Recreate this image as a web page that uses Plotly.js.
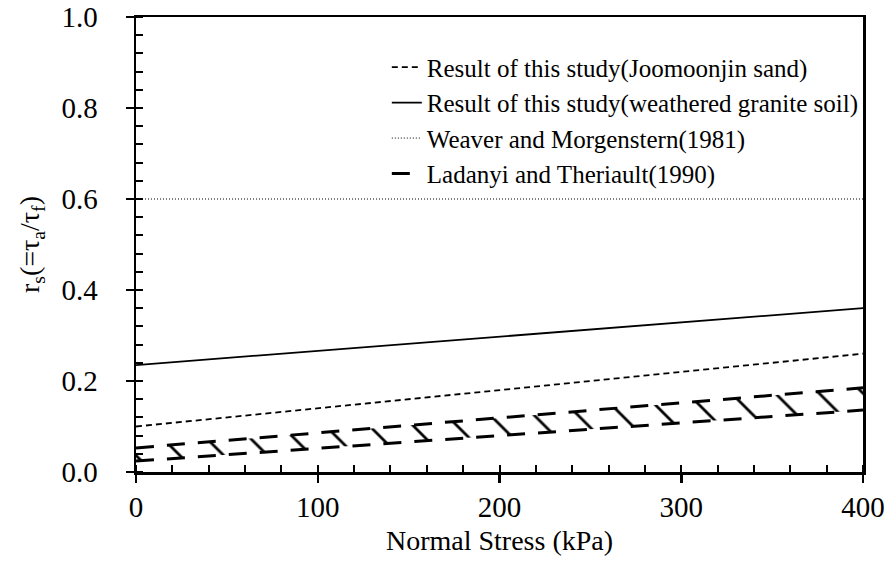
<!DOCTYPE html>
<html>
<head>
<meta charset="utf-8">
<script src="https://cdn.plot.ly/plotly-3.0.1.min.js"></script>
<style>html,body{margin:0;padding:0;background:#fff;}#chart{width:888px;height:567px;}</style>
</head>
<body>
<div id="chart"></div>
<script>
// Data
const normalStress = [0, 400];
const joomoonjinSand = [0.10, 0.26];
const graniteSoil = [0.235, 0.36];
const weaver1981 = [0.6, 0.6];
const ladanyiUpper = [0.053, 0.185];
const ladanyiLower = [0.024, 0.136];
const seriesNames = [
  "Result of this study(Joomoonjin sand)",
  "Result of this study(weathered granite soil)",
  "Weaver and Morgenstern(1981)",
  "Ladanyi and Theriault(1990)"
];
const xTicks = [0, 100, 200, 300, 400];
const yTicks = [0.0, 0.2, 0.4, 0.6, 0.8, 1.0];

const FONT = "'Liberation Serif', 'Times New Roman', serif";

const traces = [
  {x: normalStress, y: joomoonjinSand, name: seriesNames[0], mode: "lines",
   line: {color: "black", width: 1.8, dash: "6px,4px"}},
  {x: normalStress, y: graniteSoil, name: seriesNames[1], mode: "lines",
   line: {color: "black", width: 1.8}},
  {x: normalStress, y: weaver1981, name: seriesNames[2], mode: "lines",
   line: {color: "black", width: 1, dash: "1px,2px"}},
  {x: normalStress, y: ladanyiUpper, name: seriesNames[3], mode: "lines",
   line: {color: "black", width: 3, dash: "18px,13px"}},
  {x: normalStress, y: ladanyiLower, name: seriesNames[3], mode: "lines", showlegend: false,
   line: {color: "black", width: 3, dash: "18px,13px"},
   fill: "tonexty", fillcolor: "rgba(0,0,0,0)",
   fillpattern: {shape: "\\", size: 31, solidity: 0.09, fgcolor: "black", bgcolor: "rgba(0,0,0,0)"}}
];

const layout = {
  width: 888, height: 567,
  margin: {l: 136, r: 25, t: 17, b: 95},
  paper_bgcolor: "white", plot_bgcolor: "white",
  font: {family: FONT, color: "black", size: 26},
  showlegend: true,
  legend: {
    x: 0.345, xanchor: "left", y: 0.94, yanchor: "top",
    traceorder: "normal",
    bgcolor: "rgba(0,0,0,0)", borderwidth: 0,
    font: {family: FONT, size: 25, color: "black"},
    itemwidth: 30, tracegroupgap: 0
  },
  xaxis: {
    range: [0, 400], tickvals: xTicks, ticktext: xTicks.map(String),
    showgrid: false, zeroline: false,
    showline: true, linecolor: "black", linewidth: 2.5, mirror: true,
    ticks: "outside", ticklen: 8, tickwidth: 2.5, tickcolor: "black",
    minor: {ticks: "inside", dtick: 20, ticklen: 7, tickwidth: 2, tickcolor: "black", showgrid: false},
    tickfont: {family: FONT, size: 29, color: "black"},
    title: {text: "Normal Stress (kPa)", font: {family: FONT, size: 28, color: "black"}, standoff: 8}
  },
  yaxis: {
    range: [0, 1.0], tickvals: yTicks, ticktext: yTicks.map(v => v.toFixed(1)),
    showgrid: false, zeroline: false,
    showline: true, linecolor: "black", linewidth: 2.5, mirror: true,
    ticks: "outside", ticklen: 8, tickwidth: 2.5, tickcolor: "black",
    ticklabelstandoff: 22,
    minor: {ticks: "inside", dtick: 0.04, ticklen: 7, tickwidth: 2, tickcolor: "black", showgrid: false},
    tickfont: {family: FONT, size: 29, color: "black"},
    title: {text: "r<sub>s</sub>(=τ<sub>a</sub>/τ<sub>f</sub>)", font: {family: FONT, size: 28, color: "black"}, standoff: 14}
  }
};

Plotly.newPlot("chart", traces, layout, {displayModeBar: false, staticPlot: true});
</script>
</body>
</html>
